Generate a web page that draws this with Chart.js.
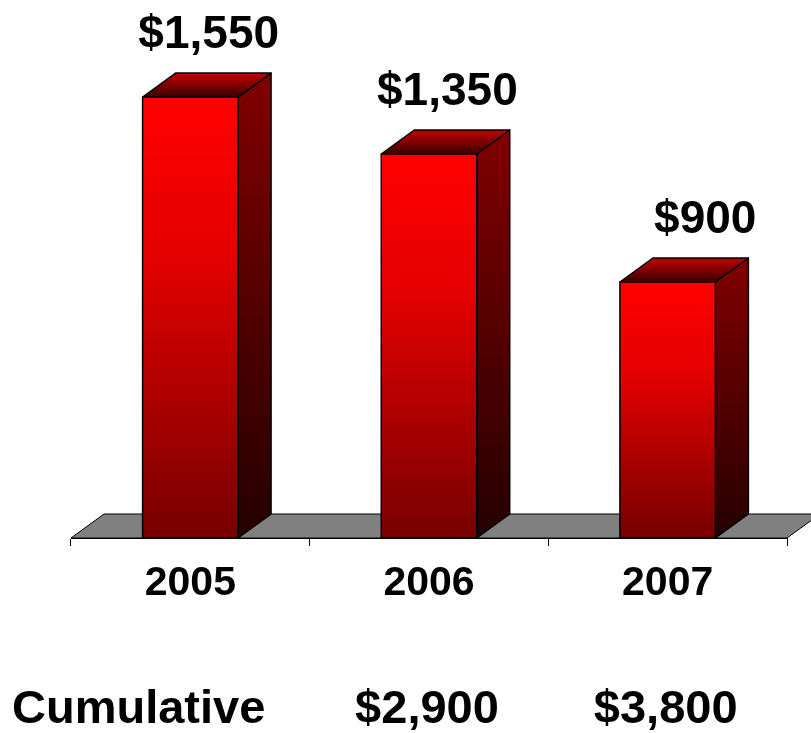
<!DOCTYPE html>
<html>
<head>
<meta charset="utf-8">
<script src="https://cdn.jsdelivr.net/npm/chart.js@4/dist/chart.umd.min.js"></script>
<style>
  html, body { margin: 0; padding: 0; background: #fff; }
  #wrap { width: 811px; height: 733px; }
</style>
</head>
<body>
<div id="wrap"><canvas id="myChart" width="811" height="733"></canvas></div>
<script>
var years = ['2005', '2006', '2007'];
var amounts = [1550, 1350, 900];
var cumulative = [null, 2900, 3800];
var cumulativeTitle = 'Cumulative';

var FONT = '"Liberation Sans", Arial, sans-serif';
var DX = 33, DY = 24;

function money(v) {
  return '$' + v.toLocaleString('en-US');
}

// floor + 3d bars + labels, drawn over the plain chart.js bars
var bars3d = {
  id: 'bars3d',
  beforeDatasetsDraw: function(chart) {
    var ctx = chart.ctx, a = chart.chartArea;
    ctx.save();
    ctx.beginPath();
    ctx.moveTo(a.left, a.bottom);
    ctx.lineTo(a.left + DX, a.bottom - DY);
    ctx.lineTo(a.right + DX, a.bottom - DY);
    ctx.lineTo(a.right, a.bottom);
    ctx.closePath();
    ctx.fillStyle = '#808080';
    ctx.fill();
    ctx.lineWidth = 1;
    ctx.strokeStyle = '#000';
    ctx.stroke();
    ctx.restore();
  },
  afterDatasetsDraw: function(chart) {
    var ctx = chart.ctx;
    var meta = chart.getDatasetMeta(0);
    ctx.save();
    ctx.lineJoin = 'round';
    ctx.lineWidth = 1.5;
    ctx.strokeStyle = '#000';
    meta.data.forEach(function(bar, i) {
      var l = bar.x - bar.width / 2, r = bar.x + bar.width / 2;
      var t = bar.y, b = bar.base;

      // side
      var g = ctx.createLinearGradient(0, t - DY, 0, b);
      g.addColorStop(0, '#820000');
      g.addColorStop(1, '#250000');
      ctx.beginPath();
      ctx.moveTo(r, t);
      ctx.lineTo(r + DX, t - DY);
      ctx.lineTo(r + DX, b - DY);
      ctx.lineTo(r, b);
      ctx.closePath();
      ctx.fillStyle = g;
      ctx.fill();
      ctx.stroke();

      // top
      g = ctx.createLinearGradient(0, t - DY, 0, t);
      g.addColorStop(0, '#c40000');
      g.addColorStop(1, '#3a0000');
      ctx.beginPath();
      ctx.moveTo(l, t);
      ctx.lineTo(l + DX, t - DY);
      ctx.lineTo(r + DX, t - DY);
      ctx.lineTo(r, t);
      ctx.closePath();
      ctx.fillStyle = g;
      ctx.fill();
      ctx.stroke();

      // front
      g = ctx.createLinearGradient(0, t, 0, b);
      g.addColorStop(0, '#ff0000');
      g.addColorStop(0.35, '#e60000');
      g.addColorStop(1, '#760000');
      ctx.fillStyle = g;
      ctx.fillRect(l, t, r - l, b - t);
      ctx.strokeRect(l, t, r - l, b - t);

      // value label
      ctx.fillStyle = '#000';
      ctx.font = 'bold 46px ' + FONT;
      ctx.textAlign = 'right';
      ctx.textBaseline = 'alphabetic';
      ctx.fillText(money(amounts[i]), r + DX + 8, t - DY - 25);
    });
    ctx.restore();
  },
  afterDraw: function(chart) {
    var ctx = chart.ctx, xs = chart.scales.x;
    ctx.save();
    ctx.fillStyle = '#000';
    ctx.font = 'bold 47px ' + FONT;
    ctx.textBaseline = 'middle';
    ctx.textAlign = 'left';
    ctx.fillText(cumulativeTitle, 12, 710);
    ctx.textAlign = 'center';
    cumulative.forEach(function(v, i) {
      if (v == null) return;
      ctx.fillText(money(v), xs.getPixelForValue(i) - 2, 710);
    });
    ctx.restore();
  }
};

var data = {
  labels: years,
  datasets: [{
    data: amounts,
    backgroundColor: 'rgba(0,0,0,0)',
    borderWidth: 0,
    categoryPercentage: 0.4,
    barPercentage: 1
  }]
};

var options = {
  responsive: false,
  animation: false,
  layout: { padding: { left: 71, right: 24, top: 26, bottom: 0 } },
  plugins: {
    legend: { display: false },
    tooltip: { enabled: false }
  },
  scales: {
    y: { display: false, min: 0, max: 1800 },
    x: {
      grid: {
        offset: true,
        drawOnChartArea: false,
        drawTicks: true,
        tickLength: 8,
        color: '#000',
        lineWidth: 1
      },
      border: { display: true, color: '#000', width: 1 },
      ticks: {
        color: '#000',
        padding: 13,
        font: { family: FONT, size: 41, weight: 'bold' }
      },
      afterFit: function(s) { s.height = 195; }
    }
  }
};

var ctx = document.getElementById('myChart');
var myBarChart = new Chart(ctx, {
  type: 'bar',
  data: data,
  options: options,
  plugins: [bars3d]
});
</script>
</body>
</html>
